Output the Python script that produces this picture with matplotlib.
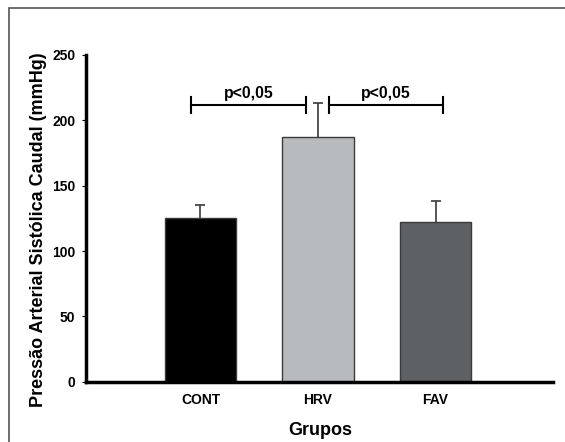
import matplotlib
matplotlib.use('Agg')
from matplotlib import pyplot as plt
from matplotlib.patches import Rectangle

plt.rcParams['font.family'] = ['Liberation Sans', 'DejaVu Sans']
plt.rcParams['font.weight'] = 'bold'

grupos = ['CONT', 'HRV', 'FAV']
medias = [125, 187, 122]
erros = [10, 26, 16]
cores = ['#000000', '#b8bbbe', '#5d6163']

# comparacoes significativas: (x inicio, x fim, altura, texto)
comparacoes = [(-0.08, 0.90, 211.5, 'p<0,05'), (1.09, 2.06, 211.5, 'p<0,05')]

fig = plt.figure(figsize=(5.65, 4.42), dpi=100)
ax = fig.add_axes([0.153, 0.136, 0.826, 0.740])

x = list(range(len(grupos)))
ax.bar(x, medias, width=0.61, color=cores, edgecolor='#3a3a3a', linewidth=1.0, zorder=2)
eb = ax.errorbar(x, medias, yerr=[[0] * len(erros), erros], fmt='none', ecolor='#3a3a3a',
                 elinewidth=1.2, capsize=3.6, capthick=1.2, zorder=1)
eb[1][0].set_visible(False)  # sem traco na base

for x0, x1, h, txt in comparacoes:
    ax.plot([x0, x1], [h, h], color='black', lw=1.5)
    ax.plot([x0, x0], [h - 6, h + 6], color='black', lw=1.5)
    ax.plot([x1, x1], [h - 6, h + 6], color='black', lw=1.5)
    ax.text((x0 + x1) / 2, h + 3, txt, ha='center', va='bottom', fontsize=11.4, fontweight='bold')

ax.set_xlim(-0.97, 3.0)
ax.set_ylim(0, 250)
ax.set_yticks([0, 50, 100, 150, 200, 250])
ax.set_xticks(x)
ax.set_xticklabels(grupos)
ax.tick_params(axis='x', length=0, pad=8, labelsize=10)
ax.tick_params(axis='y', length=3, width=0.8, pad=5, labelsize=10)
for lab in ax.get_xticklabels() + ax.get_yticklabels():
    lab.set_fontweight('bold')

for s in ['top', 'right']:
    ax.spines[s].set_visible(False)
for s in ['left', 'bottom']:
    ax.spines[s].set_linewidth(2.5)

ax.set_xlabel('Grupos', fontsize=13, fontweight='bold', labelpad=11)
ax.set_ylabel('Pressão Arterial Sistólica Caudal (mmHg)', fontsize=13, fontweight='bold')
ax.yaxis.set_label_coords(-0.085, 0.465)

# moldura da figura
fig.patches.append(Rectangle((9 / 565, -0.1), 1.2, 1.1 - 8 / 442, transform=fig.transFigure,
                             fill=False, edgecolor='#555555', linewidth=1.2))

fig.savefig('out.png', dpi=100)
